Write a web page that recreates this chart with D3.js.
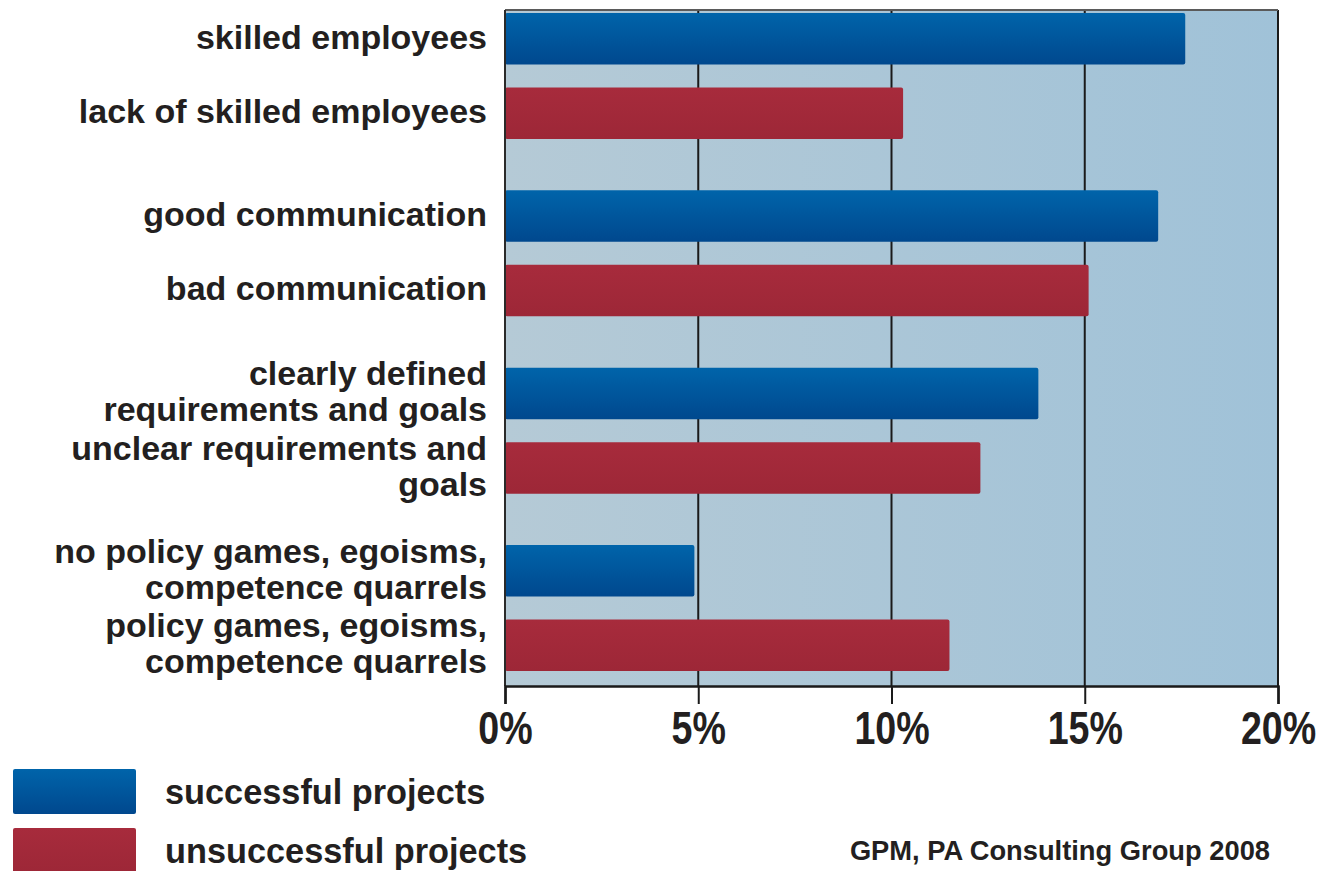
<!DOCTYPE html>
<html>
<head>
<meta charset="utf-8">
<script src="https://cdn.jsdelivr.net/npm/d3@7"></script>
<style>
  body { margin: 0; background: #fff; }
  text { font-family: "Liberation Sans", Arial, sans-serif; font-weight: bold; fill: #231f20; }
</style>
</head>
<body>
<div id="chart"></div>
<script>
// data
var factors = ["employees", "communication", "requirements", "policy"];
var series = ["successful projects", "unsuccessful projects"];
var successLabels = ["skilled employees", "good communication", "clearly defined\nrequirements and goals", "no policy games, egoisms,\ncompetence quarrels"];
var failLabels = ["lack of skilled employees", "bad communication", "unclear requirements and\ngoals", "policy games, egoisms,\ncompetence quarrels"];
var successValues = [17.6, 16.9, 13.8, 4.9];
var failValues = [10.3, 15.1, 12.3, 11.5];
var ticks = [0, 5, 10, 15, 20];
var source = "GPM, PA Consulting Group 2008";

var width = 1326, height = 871;
var plot = { left: 505, right: 1278, top: 10, bottom: 686 };

var rows = [];
factors.forEach(function (f, i) {
    rows.push({ factor: f, serie: series[0], label: successLabels[i], value: successValues[i] });
    rows.push({ factor: f, serie: series[1], label: failLabels[i], value: failValues[i] });
});

var svg = d3.select("#chart").append("svg")
    .attr("width", width)
    .attr("height", height);

var defs = svg.append("defs");
var bg = defs.append("linearGradient").attr("id", "bg").attr("x1", 0).attr("x2", 1).attr("y1", 0).attr("y2", 0);
bg.append("stop").attr("offset", 0).attr("stop-color", "#b5cad6");
bg.append("stop").attr("offset", 1).attr("stop-color", "#a0c2d8");

var blue = defs.append("linearGradient").attr("id", "blue").attr("x1", 0).attr("x2", 0).attr("y1", 0).attr("y2", 1);
blue.append("stop").attr("offset", 0).attr("stop-color", "#0064aa");
blue.append("stop").attr("offset", 1).attr("stop-color", "#00488e");

var red = defs.append("linearGradient").attr("id", "red").attr("x1", 0).attr("x2", 0).attr("y1", 0).attr("y2", 1);
red.append("stop").attr("offset", 0).attr("stop-color", "#a72b3c");
red.append("stop").attr("offset", 1).attr("stop-color", "#9d2737");

var fills = { "successful projects": "url(#blue)", "unsuccessful projects": "url(#red)" };

var x = d3.scaleLinear().domain([0, 20]).range([plot.left, plot.right]);

var yGroup = d3.scaleBand()
    .domain(factors)
    .range([plot.top + 3, plot.bottom - 15])
    .paddingInner(0.29);

var ySerie = d3.scaleBand()
    .domain(series)
    .range([0, yGroup.bandwidth()])
    .paddingInner(0.31);

function yOf(d) { return yGroup(d.factor) + ySerie(d.serie); }

// plot background
svg.append("rect")
    .attr("x", plot.left).attr("y", plot.top)
    .attr("width", plot.right - plot.left).attr("height", plot.bottom - plot.top)
    .attr("fill", "url(#bg)");

// grid lines
svg.append("g")
    .selectAll("line")
    .data(ticks.slice(1))
    .join("line")
    .attr("x1", d => x(d)).attr("x2", d => x(d))
    .attr("y1", plot.top).attr("y2", plot.bottom)
    .attr("stroke", "#1a1a1a")
    .attr("stroke-width", 2);

// top border
svg.append("line")
    .attr("x1", plot.left).attr("x2", plot.right)
    .attr("y1", plot.top).attr("y2", plot.top)
    .attr("stroke", "#5a5a5a").attr("stroke-width", 2);

// bars
svg.append("g")
    .selectAll("rect")
    .data(rows)
    .join("rect")
    .attr("x", x(0))
    .attr("y", d => yOf(d))
    .attr("width", d => x(d.value) - x(0))
    .attr("height", ySerie.bandwidth())
    .attr("rx", 2)
    .attr("fill", d => fills[d.serie]);

// left line
svg.append("line")
    .attr("x1", plot.left).attr("x2", plot.left)
    .attr("y1", plot.top).attr("y2", plot.bottom)
    .attr("stroke", "#2a2a2a").attr("stroke-width", 2);

// x axis
var xAxis = d3.axisBottom(x)
    .tickValues(ticks)
    .tickSize(18)
    .tickPadding(6)
    .tickFormat(d => d + "%");

var gx = svg.append("g")
    .attr("transform", "translate(0," + plot.bottom + ")")
    .call(xAxis);
gx.select(".domain").attr("stroke", "#1a1a1a").attr("stroke-width", 2.5);
gx.selectAll(".tick line").attr("stroke", "#1a1a1a").attr("stroke-width", 2);
// condensed look: squeeze the bold face horizontally around the tick centre
gx.selectAll(".tick text")
    .attr("fill", "#231f20")
    .style("font-family", "'Liberation Sans', Arial, sans-serif")
    .style("font-weight", "bold")
    .style("font-size", "47px")
    .attr("dy", "0.72em")
    .attr("transform", "scale(0.8,1)");

// category labels
var lineH = 36;
svg.append("g")
    .selectAll("text")
    .data(rows)
    .join("text")
    .attr("text-anchor", "end")
    .style("font-size", "34px")
    .each(function (d) {
        var lines = d.label.split("\n");
        var cy = yOf(d) + ySerie.bandwidth() / 2;
        d3.select(this).selectAll("tspan")
            .data(lines)
            .join("tspan")
            .attr("x", 487)
            .attr("y", (l, i) => cy + (i - (lines.length - 1) / 2) * lineH - 2)
            .attr("dy", "0.35em")
            .text(l => l);
    });

// legend
var legend = svg.append("g")
    .selectAll("g")
    .data(series)
    .join("g")
    .attr("transform", (d, i) => "translate(13," + (769 + i * 59) + ")");
legend.append("rect")
    .attr("width", 123).attr("height", 45).attr("rx", 2)
    .attr("fill", d => fills[d]);
legend.append("text")
    .attr("x", 152).attr("y", 22.5).attr("dy", "0.35em")
    .style("font-size", "34.3px")
    .text(d => d);

// source note
svg.append("text")
    .attr("x", 1270).attr("y", 860)
    .attr("text-anchor", "end")
    .style("font-size", "27.3px")
    .text(source);
</script>
</body>
</html>
